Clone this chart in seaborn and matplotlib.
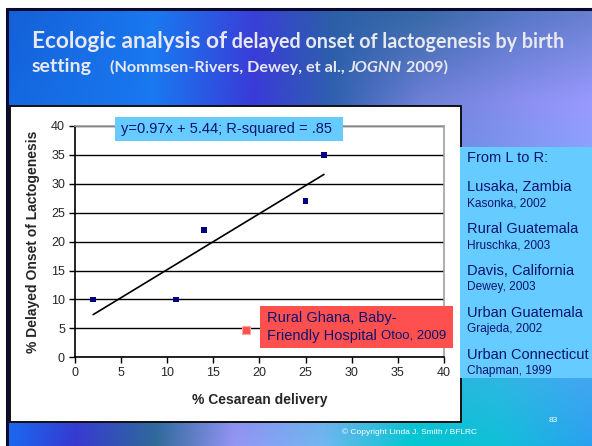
import numpy as np
import matplotlib.pyplot as plt
import matplotlib.colors as mcolors
import seaborn as sns
from matplotlib.patches import Rectangle

# --- DATA ---
cesarean_pct = [2, 11, 14, 25, 27]
delayed_pct = [10, 10, 22, 27, 35]
ghana_cesarean = [18.5]
ghana_delayed = [4.8]
fit_slope = 0.97
fit_intercept = 5.44
fit_label = "y=0.97x + 5.44; R-squared = .85"
sites = ["Lusaka, Zambia", "Rural Guatemala", "Davis, California",
         "Urban Guatemala", "Urban Connecticut"]
sources = ["Kasonka, 2002", "Hruschka, 2003", "Dewey, 2003",
           "Grajeda, 2002", "Chapman, 1999"]
axis_ticks = [0, 5, 10, 15, 20, 25, 30, 35, 40]
# ---------------------------------

W, H = 592, 446
NAVY = "#0c1470"
TITLE_COL = "#e8e8f0"

sns.set_style("white")
plt.rcParams["font.family"] = ["Liberation Sans", "DejaVu Sans"]

fig = plt.figure(figsize=(W / 100, H / 100), dpi=100)


# slide background: a rough multi-stop gradient
def grad_row(xs, cols):
    rgb = np.array([mcolors.to_rgb(c) for c in cols])
    xx = np.arange(W)
    return np.stack([np.interp(xx, xs, rgb[:, k]) for k in range(3)], axis=-1)


row_y = [8, 95, 250, 446]
rows = [
    grad_row([0, 150, 250, 330, 420, 520, 592],
             ["#1560d8", "#1a78f0", "#3a40d8", "#2b5fa8", "#3a6aa8", "#5a78c8", "#6a80d0"]),
    grad_row([0, 150, 250, 330, 420, 520, 592],
             ["#1468e0", "#1a78f0", "#3a3ad8", "#3060b0", "#6f80d8", "#8a8ff0", "#9a9aff"]),
    grad_row([0, 150, 300, 450, 592],
             ["#1a6af0", "#2a60d0", "#6080e0", "#60a0f0", "#70b0f8"]),
    grad_row([0, 70, 150, 230, 320, 410, 500, 592],
             ["#1a6af0", "#3838d0", "#2f6a98", "#9696f5", "#70b8f0", "#00c8d0", "#10c0d8", "#2aa0f0"]),
]
yy = np.arange(H)
grad = np.zeros((H, W, 3))
for k in range(3):
    stack = np.stack([r[:, k] for r in rows])
    for col in range(W):
        grad[:, col, k] = np.interp(yy, row_y, stack[:, col])

bg = fig.add_axes([0, 0, 1, 1], zorder=0)
bg.imshow(grad, extent=[6, W, H, 8], aspect="auto", interpolation="bilinear")
bg.set_xlim(0, W)
bg.set_ylim(H, 0)
bg.axis("off")
bg.plot([7, 7], [8, H], color="#0a0a30", lw=2.2, solid_capstyle="butt")
bg.plot([6, W], [9, 9], color="#0a0a30", lw=2.2, solid_capstyle="butt")

# white chart panel
bg.text(112, 421, "7/12/2010", fontsize=6, color="#d0d0e8", va="center", zorder=2)
bg.add_patch(Rectangle((10, 106), 451, 316, facecolor="white",
                       edgecolor="#111111", lw=1.4, zorder=3))

# footer
bg.text(409, 432, "\u00a9 Copyright Linda J. Smith / BFLRC", fontsize=6,
        color="white", ha="center", va="center", zorder=4)
bg.text(553, 421, "83", fontsize=6, color="white", ha="center", va="center", zorder=4)

# title (mixed sizes, chained along the baseline)
t1 = bg.text(32, 48, "Ecologic analysis of", fontsize=16.3, fontweight="bold",
             family="Lato", color=TITLE_COL, va="baseline", zorder=4)
bg.annotate(" delayed onset of lactogenesis by birth", xy=(1, 48),
            xycoords=(t1, "data"), fontsize=14.2, fontweight="bold",
            family="Lato", color=TITLE_COL, va="baseline", zorder=4)
t3 = bg.text(32, 72, "setting", fontsize=14, fontweight="bold",
             family="Lato", color=TITLE_COL, va="baseline", zorder=4)
t4 = bg.annotate("(Nommsen-Rivers, Dewey, et al., ", xy=(1, 72),
                 xycoords=(t3, "data"), xytext=(13, 0), textcoords="offset points",
                 fontsize=11.7, fontweight="bold",
                 family="Lato", color=TITLE_COL, va="baseline", zorder=4)
t5 = bg.annotate("JOGNN", xy=(1, 72), xycoords=(t4, "data"), fontsize=11.7,
                 fontweight="bold", fontstyle="italic", family="Lato",
                 color=TITLE_COL, va="baseline", zorder=4)
bg.annotate(" 2009)", xy=(1, 72), xycoords=(t5, "data"), fontsize=11.7,
            fontweight="bold", family="Lato", color=TITLE_COL,
            va="baseline", zorder=4)

# --- scatter chart ---
ax = fig.add_axes([74.7 / W, 1 - 357.3 / H, (444 - 74.7) / W, (357.3 - 126) / H],
                  zorder=1)
ax.patch.set_alpha(0)

fit_x = np.array([min(cesarean_pct), max(cesarean_pct)])
sns.lineplot(x=fit_x, y=fit_slope * fit_x + fit_intercept, color="black",
             lw=1.2, ax=ax, zorder=3)
sns.scatterplot(x=cesarean_pct, y=delayed_pct, marker="s", s=16,
                color="#000080", edgecolor="none", ax=ax, zorder=4)
sns.scatterplot(x=ghana_cesarean, y=ghana_delayed, marker="s", s=38,
                color="#ff5050", edgecolor="#ffa0a0", linewidth=0.8, ax=ax, zorder=4)

ax.set_xlim(0, 40)
ax.set_ylim(0, 40)
ax.set_xticks(axis_ticks)
ax.set_yticks(axis_ticks)
ax.yaxis.grid(True, color="black", lw=1)
ax.xaxis.grid(False)
ax.set_axisbelow(True)
for side in ["left", "bottom"]:
    ax.spines[side].set_color("black")
    ax.spines[side].set_linewidth(1.2)
for side in ["top", "right"]:
    ax.spines[side].set_color("#a0a0a0")
    ax.spines[side].set_linewidth(1.2)
ax.tick_params(direction="out", length=4, width=1, color="black",
               labelsize=9, bottom=True, left=True, pad=3)
ax.set_xlabel("% Cesarean delivery", fontsize=10, fontweight="bold", labelpad=10)
ax.set_ylabel("% Delayed Onset of Lactogenesis", fontsize=10,
              fontweight="bold", labelpad=8)

# --- overlay boxes ---
ov = fig.add_axes([0, 0, 1, 1], zorder=2)
ov.set_xlim(0, W)
ov.set_ylim(H, 0)
ov.axis("off")

ov.add_patch(Rectangle((115, 117), 228, 24, facecolor="#66ccff", edgecolor="none"))
ov.text(121, 129.5, fit_label, fontsize=10.5, color=NAVY, va="center")

ov.add_patch(Rectangle((260, 306), 193, 42, facecolor="#ff5050", edgecolor="none"))
ov.text(267, 318, "Rural Ghana, Baby-", fontsize=10.5, color=NAVY, va="center")
r2 = ov.text(267, 336, "Friendly Hospital ", fontsize=10.5, color=NAVY, va="center")
ov.annotate("Otoo, 2009", xy=(1, 336), xycoords=(r2, "data"), fontsize=9.5,
            color=NAVY, va="center")

ov.add_patch(Rectangle((460, 147), 140, 231, facecolor="#66ccff", edgecolor="none"))
ov.text(467, 158, "From L to R:", fontsize=10.5, color=NAVY, va="center")
for i, (site, src) in enumerate(zip(sites, sources)):
    y0 = 187 + i * 42
    ov.text(467, y0, site, fontsize=10.5, color=NAVY, va="center")
    ov.text(467, y0 + 16, src, fontsize=8.6, color=NAVY, va="center")

plt.savefig("out.png", dpi=100)
